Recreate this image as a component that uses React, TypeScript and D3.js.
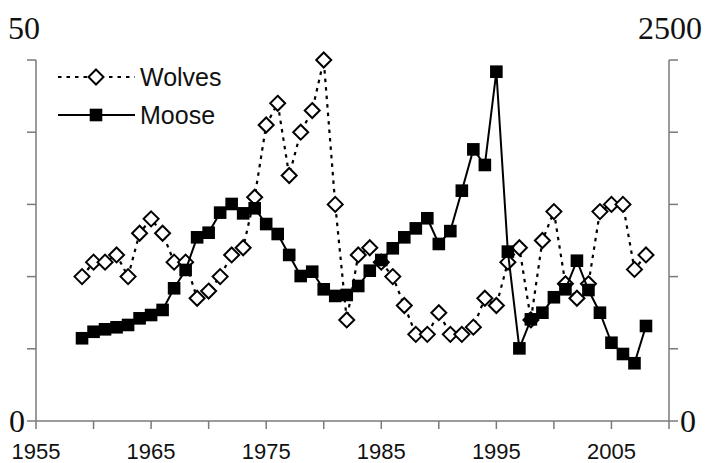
import React from "react";
import * as d3 from "d3";

const years = d3.range(1959, 2009);
const wolves = [20, 22, 22, 23, 20, 26, 28, 26, 22, 22, 17, 18, 20, 23, 24, 31, 41, 44, 34, 40, 43, 50, 30, 14, 23, 24, 22, 20, 16, 12, 12, 15, 12, 12, 13, 17, 16, 22, 24, 14, 25, 29, 19, 17, 19, 29, 30, 30, 21, 23];
const moose = [573, 618, 635, 649, 665, 711, 734, 769, 919, 1046, 1272, 1304, 1443, 1503, 1438, 1473, 1364, 1295, 1150, 1004, 1034, 912, 866, 873, 935, 1041, 1115, 1196, 1272, 1334, 1404, 1226, 1315, 1595, 1881, 1773, 2419, 1173, 503, 704, 750, 857, 912, 1110, 907, 750, 542, 464, 400, 658];
const xTickYears = d3.range(1955, 2011, 5);
const xLabelYears = [1955, 1965, 1975, 1985, 1995, 2005];
const wolfTicks = [0, 10, 20, 30, 40, 50];
const mooseTicks = [0, 500, 1000, 1500, 2000, 2500];

export default function App() {
  const W = 709, H = 463;
  const left = 36, right = 669, top = 60, bottom = 421;
  const x = d3.scaleLinear().domain([1955, 2010]).range([left, right]);
  const yW = d3.scaleLinear().domain([0, 50]).range([bottom, top]);
  const yM = d3.scaleLinear().domain([0, 2500]).range([bottom, top]);

  const wolfLine = d3.line<number>().x((_, i) => x(years[i])).y((d) => yW(d))(wolves) || "";
  const mooseLine = d3.line<number>().x((_, i) => x(years[i])).y((d) => yM(d))(moose) || "";

  const axisColor = "#7a7a7a";
  const ds = 7.5; // diamond half size
  const sq = 6.3; // square half size
  const diamond = (cx: number, cy: number) =>
    `M${cx},${cy - ds}L${cx + ds},${cy}L${cx},${cy + ds}L${cx - ds},${cy}Z`;
  const serif = "Liberation Serif, Times New Roman, serif";
  const sans = "Liberation Sans, Arial, sans-serif";

  return (
    <svg width={W} height={H} style={{ position: "absolute", left: 0, top: 0, background: "#fff" }}>
      {/* axes */}
      <line x1={left} x2={left} y1={top} y2={bottom} stroke={axisColor} strokeWidth={1.5} />
      <line x1={right} x2={right} y1={top} y2={bottom} stroke={axisColor} strokeWidth={1.5} />
      <line x1={left} x2={right} y1={bottom} y2={bottom} stroke={axisColor} strokeWidth={1.5} />
      {wolfTicks.map((t) => (
        <line key={"wl" + t} x1={left - 9} x2={left} y1={yW(t)} y2={yW(t)} stroke={axisColor} strokeWidth={1.5} />
      ))}
      {mooseTicks.map((t) => (
        <line key={"mr" + t} x1={right} x2={right + 9} y1={yM(t)} y2={yM(t)} stroke={axisColor} strokeWidth={1.5} />
      ))}
      {xTickYears.map((t) => (
        <line key={"xt" + t} x1={x(t)} x2={x(t)} y1={bottom} y2={bottom + 8} stroke={axisColor} strokeWidth={1.5} />
      ))}
      {xLabelYears.map((t) => (
        <text key={"xl" + t} x={x(t)} y={459} textAnchor="middle" fontFamily={sans} fontSize={22} fill="#111">
          {t}
        </text>
      ))}
      {/* axis end labels */}
      <text x={8} y={39} fontFamily={serif} fontSize={32} fill="#111">50</text>
      <text x={702} y={39} textAnchor="end" fontFamily={serif} fontSize={32} fill="#111">2500</text>
      <text x={9} y={432} fontFamily={serif} fontSize={32} fill="#111">0</text>
      <text x={680} y={432} fontFamily={serif} fontSize={32} fill="#111">0</text>

      {/* wolves */}
      <path d={wolfLine} fill="none" stroke="#000" strokeWidth={2.2} strokeDasharray="3.5,5" />
      {wolves.map((v, i) => (
        <path key={"w" + i} d={diamond(x(years[i]), yW(v))} fill="#fff" stroke="#000" strokeWidth={2} />
      ))}
      {/* moose */}
      <path d={mooseLine} fill="none" stroke="#000" strokeWidth={2} />
      {moose.map((v, i) => (
        <rect key={"m" + i} x={x(years[i]) - sq} y={yM(v) - sq} width={sq * 2} height={sq * 2} fill="#000" />
      ))}

      {/* legend */}
      <line x1={58} x2={135} y1={77} y2={77} stroke="#000" strokeWidth={2.2} strokeDasharray="3.5,5" />
      <path d={diamond(96, 77)} fill="#fff" stroke="#000" strokeWidth={2} />
      <text x={140} y={86} fontFamily={sans} fontSize={25} fill="#111">Wolves</text>
      <line x1={58} x2={135} y1={115} y2={115} stroke="#000" strokeWidth={2} />
      <rect x={96 - sq} y={115 - sq} width={sq * 2} height={sq * 2} fill="#000" />
      <text x={140} y={124} fontFamily={sans} fontSize={25} fill="#111">Moose</text>
    </svg>
  );
}
